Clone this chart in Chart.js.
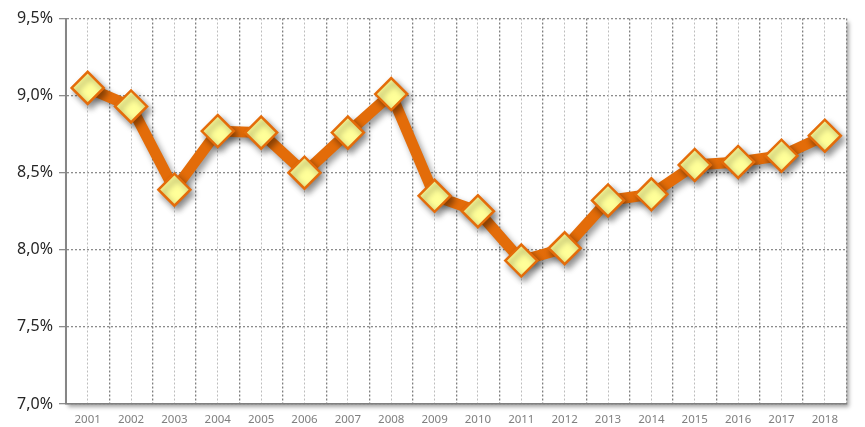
<!DOCTYPE html>
<html lang="en">
<head>
    <meta charset="UTF-8">
    <title>Line chart 2001-2018</title>
    <script src="https://cdn.jsdelivr.net/npm/chart.js"></script>
    <style>
        html, body { margin: 0; padding: 0; background: #fff; overflow: hidden; }
        canvas { display: block; }
    </style>
</head>
<body>
    <canvas id="lineChart" width="865" height="427"></canvas>
    <script>
        const years = ['2001', '2002', '2003', '2004', '2005', '2006', '2007', '2008', '2009',
                       '2010', '2011', '2012', '2013', '2014', '2015', '2016', '2017', '2018'];
        const rates = [9.05, 8.93, 8.39, 8.77, 8.76, 8.50, 8.76, 9.01, 8.35,
                       8.25, 7.93, 8.01, 8.32, 8.36, 8.55, 8.57, 8.61, 8.74];
        const yMin = 7.0;
        const yMax = 9.5;
        const yStep = 0.5;

        // white plot area with a soft shadow, shadow under the line and markers
        const shadowPlugin = {
            id: 'shadows',
            beforeDraw(chart) {
                const { ctx, chartArea: a } = chart;
                ctx.save();
                ctx.shadowColor = 'rgba(0, 0, 0, 0.35)';
                ctx.shadowBlur = 4;
                ctx.shadowOffsetX = 2;
                ctx.shadowOffsetY = 3;
                ctx.fillStyle = '#fff';
                ctx.fillRect(a.left, a.top, a.right - a.left, a.bottom - a.top);
                ctx.restore();
            },
            beforeDatasetsDraw(chart) {
                const ctx = chart.ctx;
                ctx.save();
                ctx.shadowColor = 'rgba(0, 0, 0, 0.4)';
                ctx.shadowBlur = 6;
                ctx.shadowOffsetX = 3;
                ctx.shadowOffsetY = 4;
            },
            afterDatasetsDraw(chart) {
                chart.ctx.restore();
            }
        };

        const noSidePadding = (h) => (scale) => {
            scale.height = h;
            scale.paddingLeft = 0;
            scale.paddingRight = 0;
        };

        const ctx = document.getElementById('lineChart').getContext('2d');
        new Chart(ctx, {
            type: 'line',
            data: {
                labels: years,
                datasets: [{
                    data: rates,
                    borderColor: '#E36C09',
                    borderWidth: 11,
                    backgroundColor: '#FFFF99',
                    pointStyle: 'rectRot',
                    pointRadius: 16,
                    pointBorderWidth: 2.5,
                    pointBorderColor: '#E46C0A',
                    pointBackgroundColor: '#FFFF99',
                    tension: 0
                }]
            },
            options: {
                responsive: false,
                animation: false,
                devicePixelRatio: 1,
                layout: {
                    padding: { top: 15, right: 8, left: 0, bottom: 0 }
                },
                scales: {
                    y: {
                        min: yMin,
                        max: yMax,
                        afterFit(scale) {
                            scale.width = 66;
                            scale.paddingTop = 0;
                            scale.paddingBottom = 0;
                        },
                        ticks: {
                            stepSize: yStep,
                            color: '#262626',
                            padding: 6,
                            font: { family: 'Noto Sans', size: 16 },
                            callback: v => v.toFixed(1).replace('.', ',') + '%'
                        },
                        grid: {
                            color: '#8c8c8c',
                            lineWidth: 1.3,
                            tickLength: 7
                        },
                        border: { color: '#868686', width: 2, dash: [2, 2] }
                    },
                    x: {
                        offset: true,
                        afterFit: noSidePadding(23),
                        ticks: {
                            color: '#7f7f7f',
                            padding: 9,
                            maxRotation: 0,
                            font: { family: 'Noto Sans', size: 11.5 }
                        },
                        grid: {
                            offset: true,
                            color: '#808080',
                            lineWidth: 1.3,
                            drawTicks: false
                        },
                        border: { color: '#808080', width: 1.5, dash: [2, 2] }
                    },
                    x2: {
                        type: 'category',
                        labels: years,
                        offset: true,
                        position: 'bottom',
                        afterFit: noSidePadding(0),
                        ticks: { display: false },
                        grid: {
                            offset: false,
                            color: '#bdbdbd',
                            lineWidth: 1,
                            drawTicks: false
                        },
                        border: { display: false, dash: [2, 2] }
                    }
                },
                plugins: {
                    legend: { display: false },
                    tooltip: { enabled: false }
                }
            },
            plugins: [shadowPlugin]
        });
    </script>
</body>
</html>
